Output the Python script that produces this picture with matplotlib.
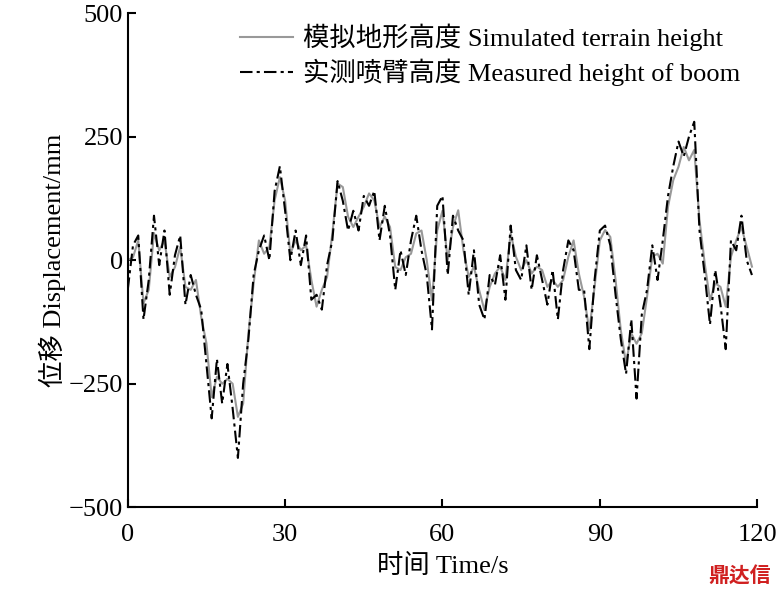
import matplotlib
matplotlib.use("Agg")
import matplotlib.pyplot as plt
from matplotlib import font_manager as fm

cjk_name = None
for f in fm.findSystemFonts():
    if "CJK" in f or "cjk" in f:
        try:
            fm.fontManager.addfont(f)
        except Exception:
            pass
for e in fm.fontManager.ttflist:
    if "CJK" in e.name and ("SC" in e.name or cjk_name is None):
        cjk_name = e.name
plt.rcParams["font.family"] = ["Liberation Serif", cjk_name or "Noto Sans CJK SC"]
plt.rcParams["font.size"] = 19

time_s = list(range(0, 120))
simulated = [0, 6, 40, -87, -60, 55, 20, 40, -34, -14,
             27, -54, -60, -40, -115, -168, -277, -236, -250, -240,
             -250, -317, -290, -148, -47, 40, 13, 27, 121, 168,
             121, 13, 40, 20, 30, -40, -94, -60, -34, 54,
             155, 148, 88, 67, 88, 108, 135, 121, 67, 88,
             67, -14, -20, 6, 13, 54, 60, 0, -81, 60,
             100, 0, 67, 101, 20, -34, -13, -61, -101, -54,
             -27, -13, -40, 54, 7, -20, 0, -27, -13, -20,
             -54, -40, -54, -40, 7, 40, -27, -74, -142, -54,
             40, 61, 47, -40, -142, -209, -148, -169, -148, -74,
             7, 13, -7, 108, 162, 189, 229, 202, 223, 81,
             -7, -81, -47, -54, -94, 7, 40, 67, 27, -13]
measured = [-60, 30, 50, -120, -40, 90, -10, 60, -70, 10,
            50, -90, -30, -70, -100, -210, -320, -200, -290, -210,
            -300, -400, -250, -160, -30, 20, 50, 0, 140, 190,
            100, 0, 60, -10, 50, -80, -70, -100, -10, 40,
            160, 120, 60, 100, 60, 130, 110, 140, 40, 110,
            50, -60, 20, -30, 40, 90, 20, -30, -140, 110,
            130, -30, 90, 60, 40, -70, 20, -90, -120, -30,
            -50, 10, -80, 70, -20, -40, 30, -60, 10, -40,
            -90, -20, -120, -20, 40, 20, -60, -60, -180, -40,
            60, 70, 30, -70, -160, -230, -120, -280, -110, -60,
            30, -40, 40, 130, 190, 240, 210, 250, 280, 60,
            -30, -130, -20, -90, -180, 40, 20, 90, 0, -30]

fig = plt.figure(figsize=(7.79, 5.92), dpi=100)
ax = fig.add_axes([0.164, 0.143, 0.808, 0.835])
ax.plot(time_s, simulated, color="#999999", lw=1.5, label="模拟地形高度 Simulated terrain height")
ax.plot(time_s, measured, color="black", lw=1.5, ls=(0, (6, 2, 1.5, 2)),
        label="实测喷臂高度 Measured height of boom")
ax.set_xlim(0, 120)
ax.set_ylim(-500, 500)
ax.set_xticks([0, 30, 60, 90, 120])
ax.set_yticks([-500, -250, 0, 250, 500])
ax.set_yticklabels(["\u2212500", "\u2212250", "0", "250", "500"])
for s in ["top", "right"]:
    ax.spines[s].set_visible(False)
for s in ["left", "bottom"]:
    ax.spines[s].set_linewidth(1.5)
ax.tick_params(direction="in", width=1.5, length=6, labelsize=19)
ax.tick_params(axis="x", pad=12)
ax.set_xlabel("时间 Time/s", fontsize=19, labelpad=6)
ax.set_ylabel("位移 Displacement/mm", fontsize=19, labelpad=2)
ax.legend(loc="upper right", frameon=False, fontsize=19, handlelength=2.0,
          handletextpad=0.4, borderaxespad=0.0, labelspacing=0.3,
          bbox_to_anchor=(0.99, 1.0))
fig.text(0.99, 0.01, "鼎达信", color="#d02020", fontsize=15, ha="right", va="bottom",
         family=cjk_name or "Noto Sans CJK SC", weight="bold")
fig.savefig("out.png", dpi=100)
